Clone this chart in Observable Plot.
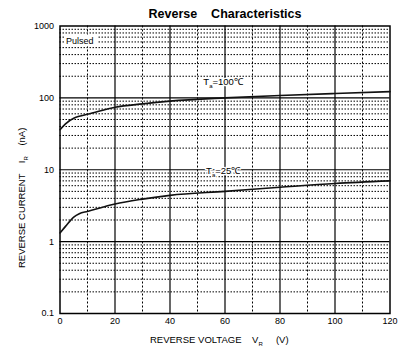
<!DOCTYPE html>
<html><head><meta charset="utf-8">
<script src="https://cdn.jsdelivr.net/npm/d3@7"></script>
<script src="https://cdn.jsdelivr.net/npm/@observablehq/plot@0.6"></script>
<style>
body{margin:0;background:#fff;}
svg{font-family:Arial,"Liberation Sans",sans-serif;}
</style>
</head><body><div id="chart"></div>
<script>
// Data
const voltage    = [0, 2, 5, 7, 10, 20, 30, 40, 60, 80, 100, 120];
const current100 = [36, 43.6, 52, 55.5, 59, 74, 82.5, 90, 100, 108, 115, 122];
const current25  = [1.32, 1.63, 2.2, 2.45, 2.63, 3.34, 3.9, 4.4, 5.0, 5.7, 6.45, 7.0];

const xTicks = [0, 20, 40, 60, 80, 100, 120];
const yTicks = [0.1, 1, 10, 100, 1000];
const xMajor = [20, 40, 60, 80, 100];
const xMinor = [10, 30, 50, 70, 90, 110];
const yMajor = [1, 10, 100];
const decades = [0.1, 1, 10, 100];
const multipliers = [2, 3, 4, 5, 6, 7, 8, 9];
const yMinor = decades.flatMap(d => multipliers.map(m => +(d * m).toPrecision(3)));

const labels = [
  {v: 52.3, i: 162, temp: "100"},
  {v: 53.3, i: 9.4, temp: "25"}
];
const pulsedAt = {v: 2, i: 600};

const data100 = voltage.map((v, k) => ({v, i: current100[k]}));
const data25  = voltage.map((v, k) => ({v, i: current25[k]}));

const font = "Arial,'Liberation Sans',sans-serif";
const plot = Plot.plot({
  width: 407, height: 355,
  marginTop: 25.5, marginBottom: 42, marginLeft: 59.5, marginRight: 17.5,
  style: {fontFamily: font, fontSize: "9px", background: "#fff", color: "#000"},
  x: {domain: [0, 120], ticks: xTicks, tickSize: 0, tickPadding: 4, label: null},
  y: {type: "log", domain: [0.1, 1000], ticks: yTicks, tickFormat: d => String(d), tickSize: 0, tickPadding: 6, label: null},
  marks: [
    Plot.ruleX(xMinor, {stroke: "#000", strokeWidth: 1, strokeDasharray: "2,2"}),
    Plot.ruleY(yMinor, {stroke: "#000", strokeWidth: 1, strokeDasharray: "1.5,1.5"}),
    Plot.ruleX(xMajor, {stroke: "#000", strokeWidth: 1.2}),
    Plot.ruleY(yMajor, {stroke: "#000", strokeWidth: 1.2}),
    Plot.frame({stroke: "#000", strokeWidth: 1.5}),
    Plot.line(data100, {x: "v", y: "i", curve: "monotone-x", stroke: "#111", strokeWidth: 1.6}),
    Plot.line(data25, {x: "v", y: "i", curve: "monotone-x", stroke: "#111", strokeWidth: 1.6})
  ]
});
document.getElementById("chart").appendChild(plot);

const svg = d3.select(plot);
const sx = plot.scale("x"), sy = plot.scale("y");

// Title
svg.append("text").attr("x", 225).attr("y", 18).attr("text-anchor", "middle")
  .attr("font-size", "12.5px").attr("font-weight", "bold").attr("font-family", font)
  .attr("xml:space", "preserve").style("white-space", "pre")
  .text("Reverse    Characteristics");

// Pulsed label with white background
const px = sx.apply(pulsedAt.v), py = sy.apply(pulsedAt.i);
svg.append("rect").attr("x", px - 1).attr("y", py - 7).attr("width", 34).attr("height", 12).attr("fill", "#fff");
svg.append("text").attr("text-anchor", "start").attr("x", px + 1).attr("y", py + 3)
  .attr("font-size", "9px").attr("font-family", font).text("Pulsed");

// Temperature labels
for (const l of labels) {
  const t = svg.append("text").attr("text-anchor", "start").attr("x", sx.apply(l.v)).attr("y", sy.apply(l.i) + 3)
    .attr("font-size", "9.5px").attr("font-family", font)
    .attr("stroke", "#fff").attr("stroke-width", 2.5).attr("paint-order", "stroke").attr("fill", "#000");
  t.append("tspan").text("T");
  t.append("tspan").attr("dy", 3).attr("font-size", "6px").text("a");
  t.append("tspan").attr("dy", -3).text("=" + l.temp + "\u2103");
}

// Axis titles
const xl = svg.append("text").attr("text-anchor", "start").attr("x", 150).attr("y", 343).attr("font-size", "9.5px")
  .attr("font-family", font).attr("xml:space", "preserve").style("white-space", "pre");
xl.append("tspan").text("REVERSE VOLTAGE    V");
xl.append("tspan").attr("dy", 3).attr("font-size", "6px").text("R");
xl.append("tspan").attr("dy", -3).text("     (V)");

const yl = svg.append("text").attr("text-anchor", "start").attr("transform", "translate(25,268) rotate(-90)").attr("font-size", "9.5px")
  .attr("font-family", font).attr("xml:space", "preserve").style("white-space", "pre");
yl.append("tspan").text("REVERSE CURRENT    I");
yl.append("tspan").attr("dy", 3).attr("font-size", "6px").text("R");
yl.append("tspan").attr("dy", -3).text("    (nA)");
</script>
</body></html>
